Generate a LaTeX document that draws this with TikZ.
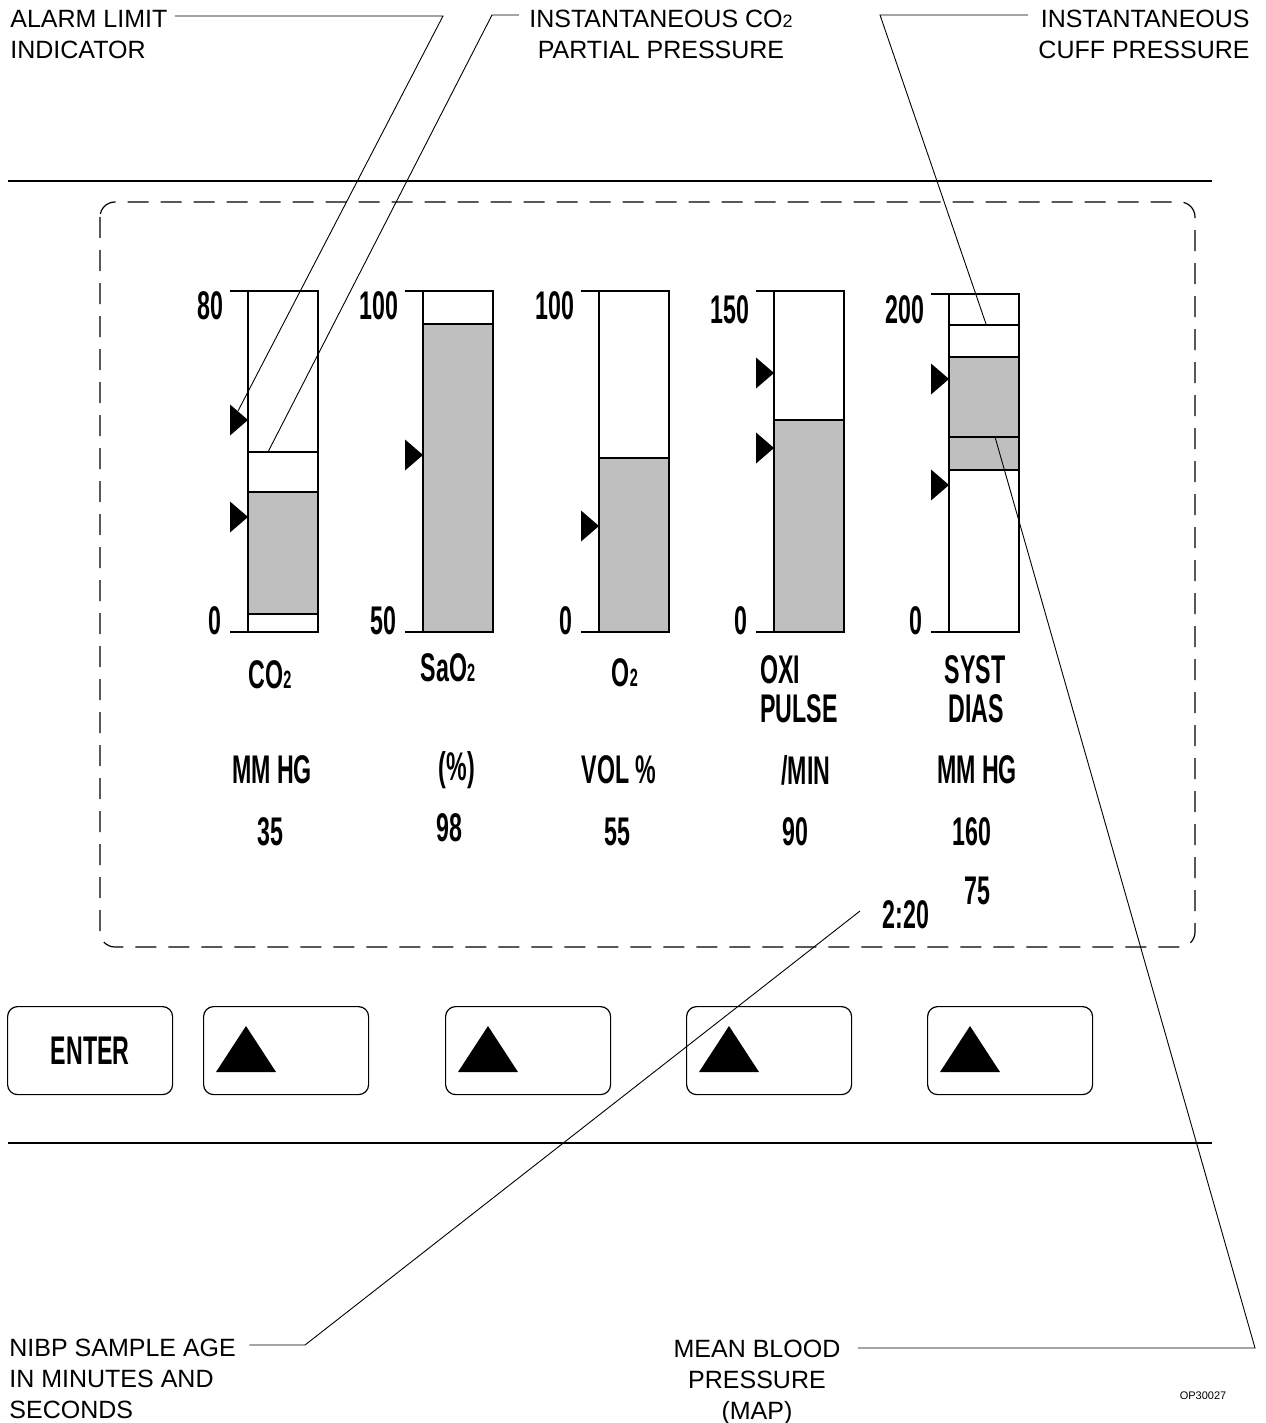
\documentclass[tikz,border=0pt]{standalone}
\usepackage{fontspec}
\setmainfont{Liberation Sans}
\newfontfamily\lcdfam{Liberation Sans}[FakeStretch=0.58]
\newcommand\lcdtext{\lcdfam\bfseries\fontsize{20}{18}\selectfont}
\newcommand\calltext{\fontsize{12.5}{15.5}\selectfont}
\newcommand\dtwo{{\fontsize{12.5}{12}\selectfont 2}}
\newcommand\ctwo{{\fontsize{9}{9}\selectfont 2}}

\begin{document}
\begin{tikzpicture}[x=0.5pt, y=-0.5pt,
        call/.style={font=\calltext, inner sep=0pt},
        lcd/.style={font=\lcdtext, inner sep=0pt},
        leader/.style={line width=0.45pt},
        barline/.style={line width=0.55pt},
        keycap/.style={draw, line width=0.6pt, rounded corners=5pt, minimum width=82.5pt,
            minimum height=44pt, inner sep=0pt, anchor=north west}]
        \useasboundingbox (0,0) rectangle (1265,1423);

        % Panel edges
        \draw[line width=0.7pt] (8,181) -- (1212,181);
        \draw[line width=0.7pt] (8,1143) -- (1212,1143);
        \draw[line width=0.6pt, dash pattern=on 10.5pt off 6pt, rounded corners=7.5pt] (100,202) rectangle (1195,947);

        % Draw the bars
        \foreach \bx/\tp/\gt/\gb in {248/291/492/614, 423/291/324/632, 599/291/458/632, 774/291/420/632, 949/294/357/470} {
            \draw[barline] (\bx,\tp) rectangle (\bx+70,632);
            \draw[barline, fill=black!25] (\bx,\gt) rectangle (\bx+70,\gb);
            \draw[barline] (\bx-18,\tp) -- (\bx,\tp);
            \draw[barline] (\bx-18,632) -- (\bx,632);
        }
        \draw[barline] (248,452) -- (318,452);
        \draw[barline] (949,325) -- (1019,325);
        \draw[barline] (949,437) -- (1019,437);

        % Alarm limit markers
        \foreach \bx/\ay in {248/420, 248/517, 423/455, 599/526, 774/373, 774/448, 949/379, 949/485} {
            \fill (\bx,\ay) -- ++(-18,-15.5) -- ++(0,31) -- cycle;
        }

        % Scale ends
        \foreach \bx/\hi/\lo/\hy in {248/80/0/306, 423/100/50/306, 599/100/0/306, 774/150/0/310, 949/200/0/310} {
            \node[lcd, anchor=east] (top\bx) at (\bx-24,\hy) {\hi};
            \node[lcd, anchor=east] (bot\bx) at (\bx-26,621) {\lo};
        }

        % Names, units and readings
        \node[lcd] (co2name) at (270,675) {CO\dtwo};
        \node[lcd] (saname) at (448,668) {SaO\dtwo};
        \node[lcd] (oname) at (625,673) {O\dtwo};
        \node[lcd, anchor=west] (oxiname) at (760,670) {OXI};
        \node[lcd, anchor=west] (pulsename) at (760,709) {PULSE};
        \node[lcd] (systname) at (975,670) {SYST};
        \node[lcd] (diasname) at (976,709) {DIAS};

        \node[lcd] (co2unit) at (272,770) {MM HG};
        \node[lcd] (saunit) at (457,770) {(\%)};
        \node[lcd] (ounit) at (619,770) {VOL \%};
        \node[lcd] (oxiunit) at (806,770) {/MIN};
        \node[lcd] (bpunit) at (977,770) {MM HG};

        \node[lcd] (co2val) at (270,832) {35};
        \node[lcd] (saval) at (449,828) {98};
        \node[lcd] (oval) at (617,832) {55};
        \node[lcd] (oxival) at (795,832) {90};
        \node[lcd] (systval) at (972,832) {160};
        \node[lcd] (diasval) at (977,891) {75};
        \node[lcd] (ageval) at (906,915) {2:20};

        % Keys
        \node[keycap, font=\lcdtext] (enter) at (7,1006) {ENTER};
        \foreach \kx/\kn in {203/up1, 445/up2, 686/up3, 927/up4} {
            \node[keycap] (\kn) at (\kx,1006) {};
            \fill ([shift={(13,66)}]\kn.north west) -- ++(60,0) -- ++(-30,-46) -- cycle;
        }

        % Callouts
        \node[call, anchor=north west, align=left] (alarmlbl) at (10,10) {ALARM LIMIT\\INDICATOR};
        \node[call, anchor=north, align=center] (co2lbl) at (661,10) {INSTANTANEOUS CO\ctwo\\PARTIAL PRESSURE};
        \node[call, anchor=north east, align=right] (cufflbl) at (1250,10) {INSTANTANEOUS\\CUFF PRESSURE};
        \node[call, anchor=north west, align=left] (nibplbl) at (9,1339) {NIBP SAMPLE AGE\\IN MINUTES AND\\SECONDS};
        \node[call, anchor=north, align=center] (maplbl) at (757,1340) {MEAN BLOOD\\PRESSURE\\(MAP)};
        \node[font=\fontsize{5.5}{6}\selectfont, inner sep=0pt] (opnum) at (1203,1396) {OP30027};

        \coordinate (alarmbend) at (443,16);
        \coordinate (alarmtip) at (238,411);
        \coordinate (co2bend) at (492,15);
        \coordinate (co2tip) at (268,452);
        \coordinate (cuffbend) at (880,15);
        \coordinate (cufftip) at (986,324);
        \coordinate (nibpbend) at (305,1345);
        \coordinate (nibptip) at (860,911);
        \coordinate (mapbend) at (1255,1348);
        \coordinate (maptip) at (995,437);

        \draw[leader] (alarmlbl.east |- alarmbend) ++(7,0) -- (alarmbend) -- (alarmtip);
        \draw[leader] (co2lbl.west |- co2bend) ++(-10,0) -- (co2bend) -- (co2tip);
        \draw[leader] (cufflbl.west |- cuffbend) ++(-10,0) -- (cuffbend) -- (cufftip);
        \draw[leader] (nibplbl.east |- nibpbend) ++(13,0) -- (nibpbend) -- (nibptip);
        \draw[leader] (maplbl.east |- mapbend) ++(17,0) -- (mapbend) -- (maptip);
    \end{tikzpicture}
\end{document}
